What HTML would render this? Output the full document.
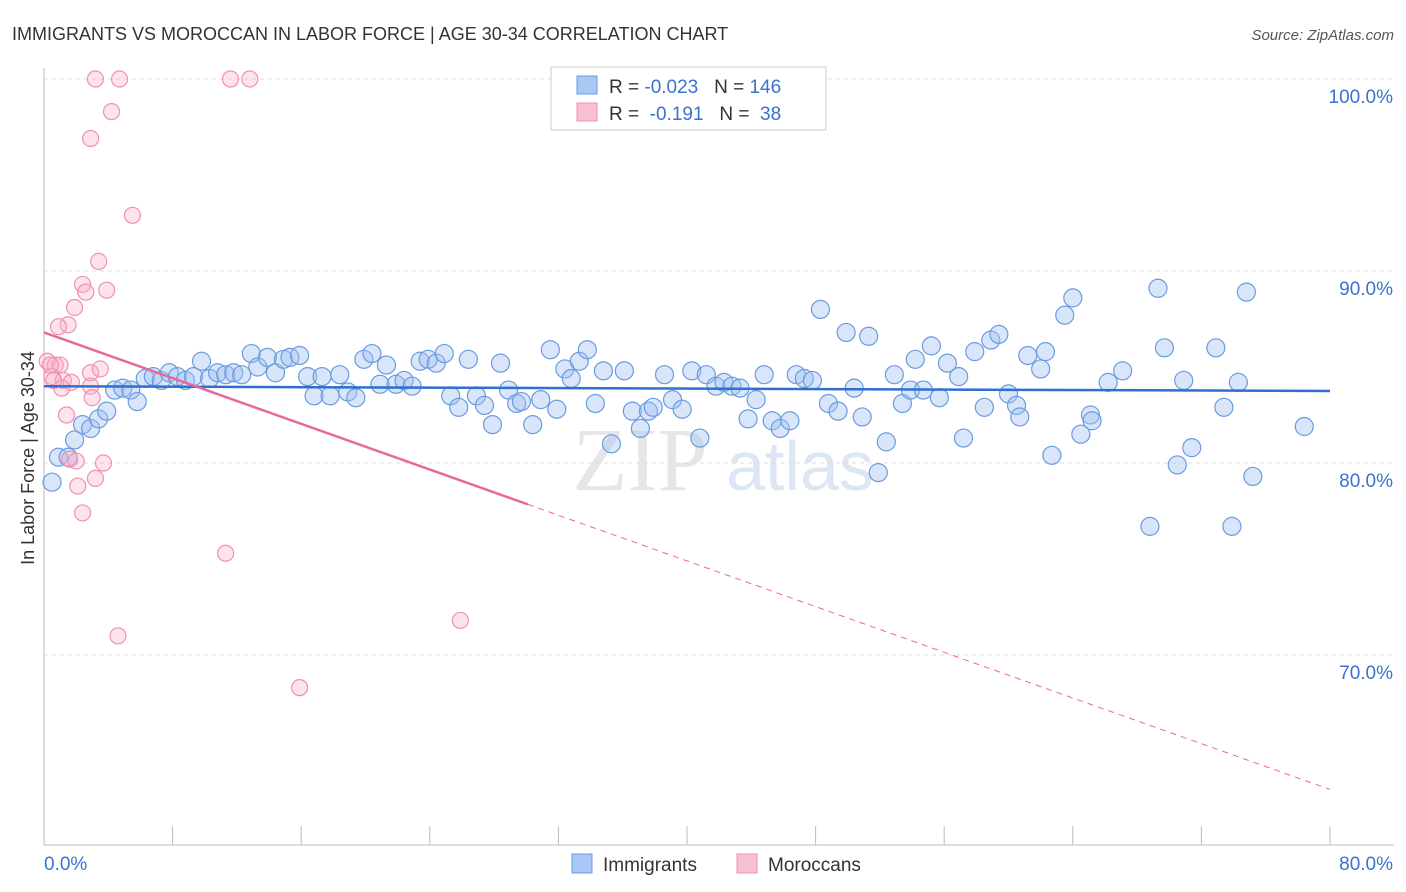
<!DOCTYPE html>
<html><head><meta charset="utf-8"><style>
body{margin:0;background:#fff;font-family:"Liberation Sans",sans-serif}
svg{display:block}
</style></head><body>
<svg id="c" width="1406" height="892">
<text x="12" y="40" font-size="18" fill="#333">IMMIGRANTS VS MOROCCAN IN LABOR FORCE | AGE 30-34 CORRELATION CHART</text>
<text x="1394" y="40" font-size="15" fill="#555" font-style="italic" text-anchor="end">Source: ZipAtlas.com</text>
<text x="640" y="490" font-size="90" fill="#e6e6e6" font-family="Liberation Serif" text-anchor="middle">ZIP</text>
<text x="800" y="490" font-size="70" fill="#dde6f4" text-anchor="middle">atlas</text>
<g id="grid"></g><g id="axes"></g><g id="pts"></g><g id="trend"></g>
<g>
<rect x="551" y="67" width="275" height="63" fill="#fff" stroke="#ccc"/>
<rect x="577" y="76" width="20" height="18" fill="#aac8f5" stroke="#6a9be0"/>
<rect x="577" y="103" width="20" height="18" fill="#f8c0d2" stroke="#f08fb0"/>
<text x="609" y="93" font-size="19" fill="#333">R = <tspan fill="#3a72d0">-0.023</tspan>&#160;&#160;&#160;N = <tspan fill="#3a72d0">146</tspan></text>
<text x="609" y="120" font-size="19" fill="#333">R = &#160;<tspan fill="#3a72d0">-0.191</tspan>&#160;&#160;&#160;N = &#160;<tspan fill="#3a72d0">38</tspan></text>
</g>
<g>
<rect x="572" y="854" width="20" height="19" fill="#aac8f5" stroke="#6a9be0"/>
<text x="603" y="871" font-size="19" fill="#333">Immigrants</text>
<rect x="737" y="854" width="20" height="19" fill="#f8c0d2" stroke="#f08fb0"/>
<text x="768" y="871" font-size="19" fill="#333">Moroccans</text>
</g>
<text x="34" y="458" font-size="18" fill="#333" text-anchor="middle" transform="rotate(-90 34 458)">In Labor Force | Age 30-34</text>
</svg>
<script>
const blueX=[0.5,0.9,1.5,1.9,2.4,2.9,3.4,3.9,4.4,4.9,5.4,5.8,6.3,6.8,7.3,7.8,8.3,8.8,9.3,9.8,10.3,10.8,11.3,11.8,12.3,12.9,13.3,13.9,14.4,14.9,15.3,15.9,16.4,16.8,17.3,17.8,18.4,18.9,19.4,19.9,20.4,20.9,21.3,21.9,22.4,22.9,23.4,23.9,24.4,24.9,25.3,25.8,26.4,26.9,27.4,27.9,28.4,28.9,29.4,29.7,30.4,30.9,31.5,31.9,32.4,32.8,33.3,33.8,34.3,34.8,35.3,36.1,36.6,37.1,37.6,37.9,38.6,39.1,39.7,40.3,40.8,41.2,41.8,42.3,42.8,43.3,43.8,44.3,44.8,45.3,45.8,46.4,46.8,47.3,47.8,48.3,48.8,49.4,49.9,50.4,50.9,51.3,51.9,52.4,52.9,53.4,53.9,54.2,54.7,55.2,55.7,56.2,56.9,57.2,57.9,58.5,58.9,59.4,60.0,60.5,60.7,61.2,62.0,62.3,62.7,63.5,64.0,64.5,65.1,65.2,66.2,67.1,68.8,69.3,69.7,70.5,70.9,71.4,72.9,73.4,73.9,74.3,74.8,75.2,78.4];
const blueY=[79.0,80.3,80.3,81.2,82.0,81.8,82.3,82.7,83.8,83.9,83.8,83.2,84.4,84.5,84.3,84.7,84.5,84.3,84.5,85.3,84.4,84.7,84.6,84.7,84.6,85.7,85.0,85.5,84.7,85.4,85.5,85.6,84.5,83.5,84.5,83.5,84.6,83.7,83.4,85.4,85.7,84.1,85.1,84.1,84.3,84.0,85.3,85.4,85.2,85.7,83.5,82.9,85.4,83.5,83.0,82.0,85.2,83.8,83.1,83.2,82.0,83.3,85.9,82.8,84.9,84.4,85.3,85.9,83.1,84.8,81.0,84.8,82.7,81.8,82.7,82.9,84.6,83.3,82.8,84.8,81.3,84.6,84.0,84.2,84.0,83.9,82.3,83.3,84.6,82.2,81.8,82.2,84.6,84.4,84.3,88.0,83.1,82.7,86.8,83.9,82.4,86.6,79.5,81.1,84.6,83.1,83.8,85.4,83.8,86.1,83.4,85.2,84.5,81.3,85.8,82.9,86.4,86.7,83.6,83.0,82.4,85.6,84.9,85.8,80.4,87.7,88.6,81.5,82.5,82.2,84.2,84.8,76.7,89.1,86.0,79.9,84.3,80.8,86.0,82.9,76.7,84.2,88.9,79.3,81.9];
const pinkX=[3.2,4.7,11.6,12.8,4.2,2.9,5.5,3.4,2.4,2.6,3.9,1.9,1.5,0.9,0.2,0.7,1.0,0.5,1.2,1.7,2.9,3.5,2.9,1.1,3.0,1.4,1.6,2.0,3.7,3.2,2.1,2.4,11.3,4.6,25.9,15.9,0.4,0.6];
const pinkY=[100,100,100,100,98.3,96.9,92.9,90.5,89.3,88.9,89.0,88.1,87.2,87.1,85.3,85.1,85.1,84.5,84.3,84.2,84.7,84.9,84.0,83.9,83.4,82.5,80.2,80.1,80.0,79.2,78.8,77.4,75.3,71.0,71.8,68.3,85.1,84.3];
const yTicks=[100,90,80,70];
const blueTrend=[84.0,83.75];
const pinkTrend=[86.8,63.0];
const pinkSolidEnd=30.1;
const X=v=>44+v*(1330-44)/80, Y=v=>79+(100-v)*19.2;
const NS='http://www.w3.org/2000/svg';
function mk(t,a,p){const e=document.createElementNS(NS,t);for(const k in a)e.setAttribute(k,a[k]);p.appendChild(e);return e;}
const grid=document.getElementById('grid'),axes=document.getElementById('axes'),pts=document.getElementById('pts'),tr=document.getElementById('trend');
yTicks.forEach(t=>{
 const l=mk('line',{x1:44,x2:1394,y1:Y(t),y2:Y(t),stroke:'#ddd','stroke-dasharray':'4,4'},grid);
 
 
 const tx=mk('text',{x:1393,y:Y(t)+24,'font-size':19,fill:'#3a72d0','text-anchor':'end'},grid);
 tx.textContent=t.toFixed(1)+'%';
 
 
});
const xa=mk('line',{x1:44,x2:1394,y1:845,y2:845,stroke:'#bbb'},axes);


const ya=mk('line',{x1:44,x2:44,y1:68,y2:845,stroke:'#bbb'},axes);


for(let i=0;i<=10;i++){const t=mk('line',{x1:X(i*8),x2:X(i*8),y1:826,y2:845,stroke:'#bbb'},axes);
 
 }
[[0,'0.0%','start'],[80,'80.0%','end']].forEach(([v,s,a])=>{const t=mk('text',{x:X(v)+(a=='end'?63:0),y:870,'font-size':19,fill:'#3a72d0','text-anchor':a},axes);t.textContent=s;
 
 });
blueX.forEach((x,i)=>{const c=mk('circle',{cx:X(x),cy:Y(blueY[i]),r:9,fill:'rgba(160,192,240,0.4)',stroke:'#6a9be0','stroke-width':1.2},pts);
 
 });
pinkX.forEach((x,i)=>{const c=mk('circle',{cx:X(x),cy:Y(pinkY[i]),r:8,fill:'rgba(245,175,200,0.35)',stroke:'#f090b2','stroke-width':1.2},pts);
 
 });
const b=mk('line',{x1:X(0),y1:Y(blueTrend[0]),x2:X(80),y2:Y(blueTrend[1]),stroke:'#2f6fd0','stroke-width':2.5},tr);


const py=x=>pinkTrend[0]+(pinkTrend[1]-pinkTrend[0])*x/80;
const p1=mk('line',{x1:X(0),y1:Y(py(0)),x2:X(pinkSolidEnd),y2:Y(py(pinkSolidEnd)),stroke:'#e8689a','stroke-width':2.5},tr);


const p2=mk('line',{x1:X(pinkSolidEnd),y1:Y(py(pinkSolidEnd)),x2:X(80),y2:Y(py(80)),stroke:'#e8689a','stroke-width':1,'stroke-dasharray':'6,5'},tr);


</script>
</body></html>
